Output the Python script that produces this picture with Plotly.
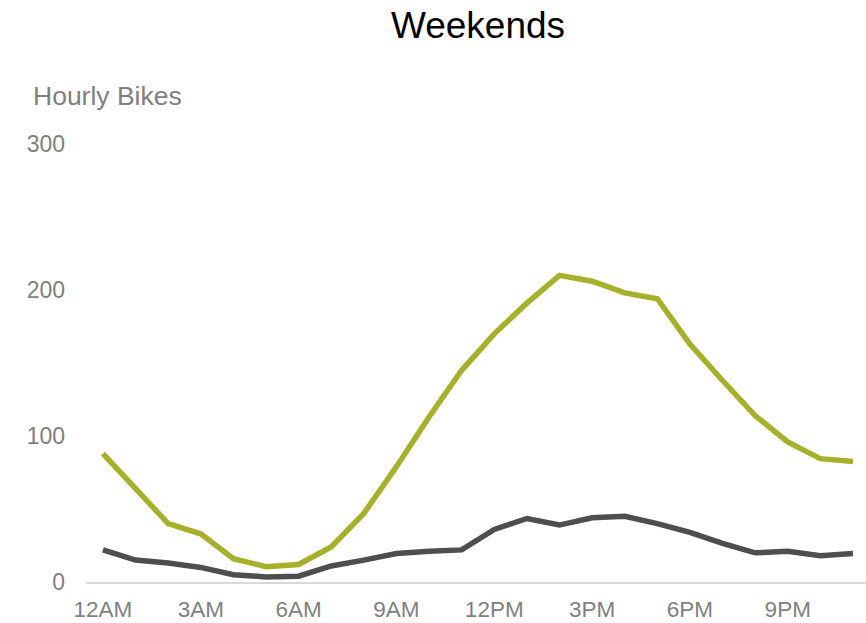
import plotly.graph_objects as go

hours = list(range(24))
tick_hours = [0, 3, 6, 9, 12, 15, 18, 21]
tick_labels = ["12AM", "3AM", "6AM", "9AM", "12PM", "3PM", "6PM", "9PM"]

casual = [88, 64, 40, 33, 16, 10.5, 12, 24, 47, 79, 113, 145, 170, 191, 210, 206,
          198, 194, 163, 138, 114, 96, 84.5, 82.5]
registered = [22, 15, 13, 10, 5, 3.5, 4, 11, 15, 19.5, 21, 22, 36, 43.5, 39, 44,
              45, 40, 34, 26.5, 20, 21, 18, 19.5]

GREEN = "#A6B02A"
DARK = "#4E4E4E"
GREY_TXT = "#7F7F7F"

fig = go.Figure()
fig.add_trace(go.Scatter(x=hours, y=casual, mode="lines",
                         line=dict(color=GREEN, width=5.5), hoverinfo="skip"))
fig.add_trace(go.Scatter(x=hours, y=registered, mode="lines",
                         line=dict(color=DARK, width=5.5), hoverinfo="skip"))

fig.update_layout(
    width=866, height=623,
    margin=dict(l=86, r=0, t=144, b=41),
    paper_bgcolor="white", plot_bgcolor="white",
    showlegend=False,
    font=dict(family="Liberation Sans, Arial, sans-serif", color=GREY_TXT),
    title=dict(text="Weekends", x=0.552, xanchor="center", y=0.96, yanchor="middle",
               font=dict(size=37, color="#000000")),
    xaxis=dict(range=[-0.52, 23.4], tickvals=tick_hours, ticktext=tick_labels,
               showgrid=False, zeroline=False, showline=True,
               linecolor="#D9D9D9", linewidth=1.5, ticks="",
               tickfont=dict(size=22.5, color=GREY_TXT), ticklabelstandoff=6),
    yaxis=dict(range=[0, 300], tickvals=[0, 100, 200, 300],
               showgrid=False, zeroline=False, showline=False, ticks="",
               tickfont=dict(size=23, color=GREY_TXT), ticklabelstandoff=20),
    annotations=[dict(text="Hourly Bikes", xref="paper", yref="paper",
                      x=-0.07, y=1.11, xanchor="left", yanchor="middle",
                      showarrow=False, font=dict(size=26.5, color=GREY_TXT))],
)

fig.write_html("out.html")
